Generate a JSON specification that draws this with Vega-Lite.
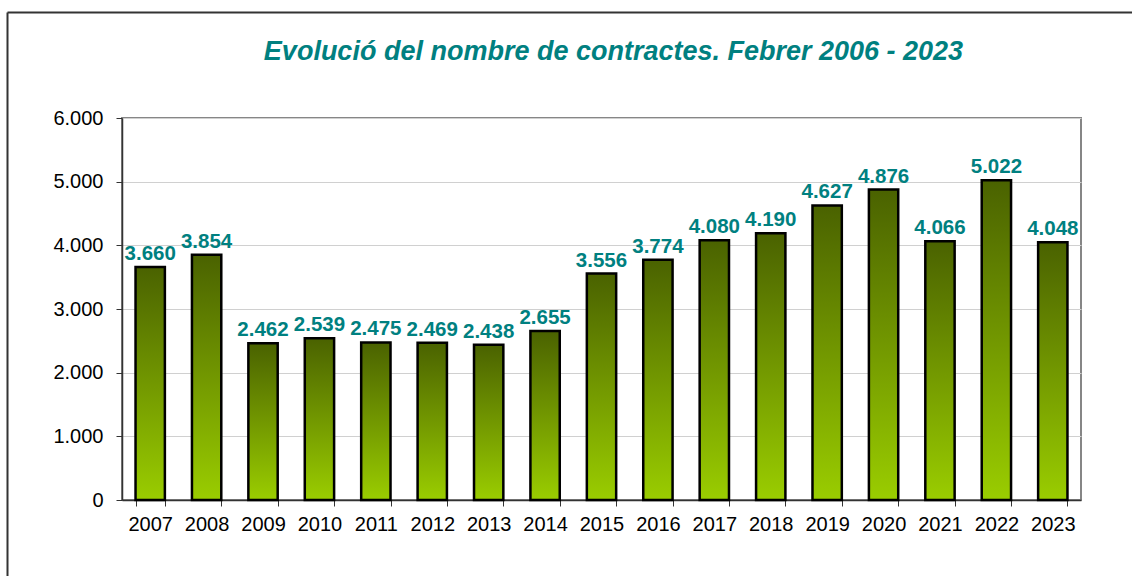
{
  "$schema": "https://vega.github.io/schema/vega-lite/v6.json",
  "autosize": {"type": "none"},
  "padding": {"left": 122, "top": 118, "right": 51, "bottom": 76},
  "width": 959,
  "height": 382,
  "background": "white",
  "config": {
    "locale": {"number": {"decimal": ",", "thousands": ".", "grouping": [3], "currency": ["", " €"]}},
    "font": "Liberation Sans",
    "view": {"stroke": "#868686", "strokeWidth": 2}
  },
  "title": {
    "text": "Evolució del nombre de contractes. Febrer 2006 - 2023",
    "font": "Liberation Sans",
    "fontSize": 27,
    "fontWeight": "bold",
    "fontStyle": "italic",
    "color": "#008080",
    "anchor": "middle",
    "dx": 12,
    "offset": -57
  },
  "resolve": {
    "scale": {"x": "independent", "y": "independent"},
    "axis": {"x": "independent", "y": "independent"}
  },
  "layer": [
    {
      "data": {
        "values": [
          {"year": "2007", "contracts": 3660},
          {"year": "2008", "contracts": 3854},
          {"year": "2009", "contracts": 2462},
          {"year": "2010", "contracts": 2539},
          {"year": "2011", "contracts": 2475},
          {"year": "2012", "contracts": 2469},
          {"year": "2013", "contracts": 2438},
          {"year": "2014", "contracts": 2655},
          {"year": "2015", "contracts": 3556},
          {"year": "2016", "contracts": 3774},
          {"year": "2017", "contracts": 4080},
          {"year": "2018", "contracts": 4190},
          {"year": "2019", "contracts": 4627},
          {"year": "2020", "contracts": 4876},
          {"year": "2021", "contracts": 4066},
          {"year": "2022", "contracts": 5022},
          {"year": "2023", "contracts": 4048}
        ]
      },
      "encoding": {
        "x": {
          "field": "year",
          "type": "ordinal",
          "scale": {"paddingInner": 0.48, "paddingOuter": 0.24},
          "axis": {
            "title": null,
            "orient": "bottom",
            "labelAngle": 0,
            "labelFont": "Liberation Sans",
            "labelFontSize": 20,
            "labelColor": "#000000",
            "labelPadding": 8,
            "tickBand": "extent",
            "tickSize": 6,
            "tickColor": "#333333",
            "domainColor": "#333333",
            "domainWidth": 1.5,
            "grid": false
          }
        },
        "y": {
          "field": "contracts",
          "type": "quantitative",
          "scale": {"domain": [0, 6000], "nice": false},
          "axis": {
            "title": null,
            "orient": "left",
            "values": [0, 1000, 2000, 3000, 4000, 5000, 6000],
            "format": ",d",
            "labelFont": "Liberation Sans",
            "labelFontSize": 20,
            "labelColor": "#000000",
            "labelPadding": 13,
            "tickSize": 6,
            "tickColor": "#333333",
            "domainColor": "#333333",
            "domainWidth": 1.5,
            "gridColor": "#d0d0d0",
            "gridWidth": 1
          }
        }
      },
      "layer": [
        {
          "mark": {
            "type": "bar",
            "stroke": "#000000",
            "strokeWidth": 2.5,
            "color": {
              "gradient": "linear",
              "x1": 0, "y1": 0, "x2": 0, "y2": 1,
              "stops": [
                {"offset": 0, "color": "#4a6200"},
                {"offset": 1, "color": "#9acd00"}
              ]
            }
          }
        },
        {
          "mark": {
            "type": "text",
            "font": "Liberation Sans",
            "fontSize": 20.5,
            "fontWeight": "bold",
            "color": "#008080",
            "baseline": "alphabetic",
            "dy": -7
          },
          "encoding": {
            "text": {"field": "contracts", "type": "quantitative", "format": ",d"}
          }
        }
      ]
    },
    {
      "data": {"values": [{"edge": 0}, {"edge": 1}]},
      "mark": {"type": "point", "opacity": 0},
      "encoding": {
        "x": {
          "field": "edge",
          "type": "quantitative",
          "scale": {"domain": [0, 1], "range": [-115, 1030], "nice": false, "zero": false},
          "axis": {"orient": "top", "offset": 106, "title": null, "labels": false, "ticks": false, "grid": false, "domain": true, "domainColor": "#333333", "domainWidth": 2}
        },
        "y": {
          "field": "edge",
          "type": "quantitative",
          "scale": {"domain": [0, 1], "range": [480, -106], "nice": false, "zero": false},
          "axis": {"orient": "left", "offset": 115, "title": null, "labels": false, "ticks": false, "grid": false, "domain": true, "domainColor": "#333333", "domainWidth": 2}
        }
      }
    }
  ]
}
